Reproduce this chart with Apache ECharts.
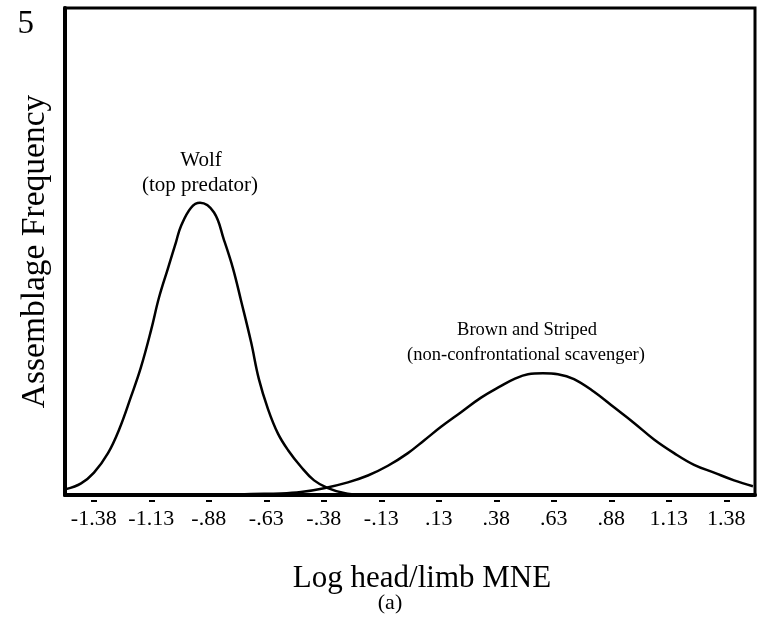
<!DOCTYPE html>
<html>
<head>
<meta charset="utf-8">
<script src="https://cdn.jsdelivr.net/npm/echarts@6/dist/echarts.min.js"></script>
<style>
  html, body { margin: 0; padding: 0; background: #fff; }
  #chart { width: 757px; height: 633px; }
</style>
</head>
<body>
<div id="chart"></div>
<script>
// Bin centres on the log head/limb MNE axis and their printed labels
const xTickValues = [-1.375, -1.125, -0.875, -0.625, -0.375, -0.125, 0.125, 0.375, 0.625, 0.875, 1.125, 1.375];
const xTickLabels = ['-1.38', '-1.13', '-.88', '-.63', '-.38', '-.13', '.13', '.38', '.63', '.88', '1.13', '1.38'];

// Wolf (top predator) frequency curve
const wolfX = [-1.496, -1.43, -1.374, -1.313, -1.265, -1.213, -1.17, -1.126, -1.091, -1.052, -1.017, -0.996, -0.952, -0.913, -0.852, -0.809, -0.77, -0.735, -0.691, -0.657, -0.617, -0.574, -0.53, -0.474, -0.417, -0.357, -0.287, -0.213];
const wolfY = [0.06, 0.12, 0.23, 0.43, 0.67, 1.01, 1.31, 1.69, 2.03, 2.33, 2.6, 2.76, 2.95, 3.0, 2.9, 2.62, 2.33, 2.0, 1.57, 1.19, 0.88, 0.63, 0.46, 0.29, 0.15, 0.07, 0.02, 0.0];

// Brown and striped hyena (non-confrontational scavenger) frequency curve
const brownX = [-0.822, -0.691, -0.561, -0.474, -0.374, -0.27, -0.183, -0.096, -0.009, 0.061, 0.135, 0.222, 0.309, 0.396, 0.452, 0.513, 0.578, 0.643, 0.713, 0.8, 0.887, 0.974, 1.061, 1.148, 1.235, 1.322, 1.409, 1.491];
const brownY = [0.0, 0.01, 0.015, 0.03, 0.07, 0.13, 0.2, 0.3, 0.43, 0.56, 0.7, 0.85, 1.0, 1.12, 1.19, 1.24, 1.25, 1.24, 1.19, 1.06, 0.9, 0.74, 0.57, 0.43, 0.31, 0.23, 0.15, 0.09];

const yMaxLabel = [5];

const SERIF = '"Liberation Serif", "DejaVu Serif", serif';
const zip = (xs, ys) => xs.map((x, i) => [x, ys[i]]);

const chart = echarts.init(document.getElementById('chart'), null, { renderer: 'canvas' });

chart.setOption({
  animation: false,
  backgroundColor: '#fff',
  grid: {
    left: 65, right: 2, top: 8, bottom: 138,
    outerBoundsMode: 'none', containLabel: false,
    show: true, borderColor: '#000', borderWidth: 3, backgroundColor: 'transparent'
  },
  xAxis: [
    {
      type: 'value', min: -1.5, max: 1.5,
      axisLine: { show: true, onZero: false, lineStyle: { color: '#000', width: 4 } },
      axisTick: { show: false },
      splitLine: { show: false },
      axisLabel: {
        customValues: xTickValues,
        formatter: (v) => {
          const i = xTickValues.findIndex(t => Math.abs(t - v) < 1e-6);
          return i >= 0 ? xTickLabels[i] : '';
        },
        margin: 13, fontSize: 22, color: '#000', fontFamily: SERIF
      },
      name: 'Log head/limb MNE',
      nameLocation: 'middle',
      nameGap: 68,
      nameMoveOverlap: false,
      nameTextStyle: { fontSize: 31, color: '#000', fontFamily: SERIF, padding: [0, 0, 0, 24] }
    },
    {
      // short dashes sitting just under the axis line at each bin centre
      type: 'value', min: -1.5, max: 1.5, position: 'bottom', offset: 5,
      axisLine: { show: false, onZero: false },
      axisLabel: { show: false },
      splitLine: { show: false },
      axisTick: { show: true, customValues: xTickValues, length: 2, lineStyle: { color: '#000', width: 6 } }
    }
  ],
  yAxis: {
    type: 'value', min: 0, max: 5,
    axisLine: { show: true, onZero: false, lineStyle: { color: '#000', width: 4 } },
    axisTick: { show: false },
    splitLine: { show: false },
    axisLabel: {
      customValues: yMaxLabel,
      verticalAlign: 'top',
      margin: 31, fontSize: 33, color: '#000', fontFamily: SERIF
    },
    name: 'Assemblage Frequency',
    nameLocation: 'middle',
    nameGap: 13,
    nameMoveOverlap: false,
    nameTextStyle: { fontSize: 33.5, color: '#000', fontFamily: SERIF }
  },
  series: [
    {
      name: 'Wolf', type: 'line', xAxisIndex: 0, smooth: 0.4, symbol: 'none',
      lineStyle: { color: '#000', width: 2.5 },
      data: zip(wolfX, wolfY)
    },
    {
      name: 'Brown and Striped', type: 'line', xAxisIndex: 0, smooth: 0.4, symbol: 'none',
      lineStyle: { color: '#000', width: 2.5 },
      data: zip(brownX, brownY)
    }
  ],
  graphic: [
    { type: 'text', x: 201, y: 160, style: { text: 'Wolf', font: '21px ' + SERIF, fill: '#000', align: 'center', verticalAlign: 'middle' } },
    { type: 'text', x: 200, y: 185, style: { text: '(top predator)', font: '21px ' + SERIF, fill: '#000', align: 'center', verticalAlign: 'middle' } },
    { type: 'text', x: 527, y: 330, style: { text: 'Brown and Striped', font: '18.5px ' + SERIF, fill: '#000', align: 'center', verticalAlign: 'middle' } },
    { type: 'text', x: 526, y: 355, style: { text: '(non-confrontational scavenger)', font: '18.5px ' + SERIF, fill: '#000', align: 'center', verticalAlign: 'middle' } },
    { type: 'text', x: 390, y: 603, style: { text: '(a)', font: '22px ' + SERIF, fill: '#000', align: 'center', verticalAlign: 'middle' } }
  ]
});
</script>
</body>
</html>
